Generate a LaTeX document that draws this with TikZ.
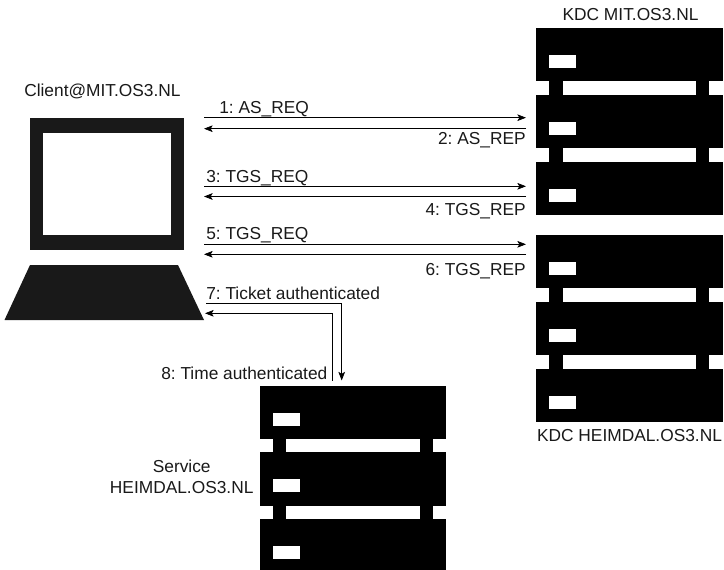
\documentclass[tikz,border=0pt]{standalone}
\usepackage{fontspec}
\setmainfont{Liberation Sans}
\usetikzlibrary{arrows.meta}
\frenchspacing
\tikzset{
  ink/.style={fill=black,draw=none},
  gap/.style={fill=white,draw=none},
  lbl/.style={inner sep=0pt,font=\fontsize{13pt}{15pt}\selectfont,text=black!90},
  lblL/.style={lbl,anchor=base west},
  lblR/.style={lbl,anchor=base east},
  lblC/.style={lbl,anchor=base},
  msg/.style={line width=0.6pt,-{Stealth[length=6.5pt,width=5pt,inset=1.5pt]}},
  pics/rack/.style={code={
    \fill[ink] (0,0) rectangle (186.6,186.4);
    \foreach \g in {53,120}{
      \fill[gap] (0,\g) rectangle (13.4,\g+13.4);
      \fill[gap] (26.7,\g) rectangle (160,\g+13.4);
      \fill[gap] (173.3,\g) rectangle (186.6,\g+13.4);
    }
    \foreach \g in {27,93.7,160.4}{
      \fill[gap] (13.4,\g) rectangle (40,\g+13);
    }
  }}
}
\begin{document}
\begin{tikzpicture}[x=0.75pt,y=-0.75pt]
\useasboundingbox (0,0) rectangle (724,570);
\begin{scope}
\clip (0,0) rectangle (724,570);
\pic at (536,28.5) {rack};
\pic at (536,235.3) {rack};
\pic at (259.7,385.7) {rack};
\end{scope}
% laptop
\fill[black!90] (30,118.3) rectangle (184,250);
\fill[white] (42.7,132.7) rectangle (171,235);
\fill[black!90] (30,265) -- (178,265) -- (204,320) -- (4.5,320) -- cycle;
% connector ends
\coordinate (cl1) at (204,117.7); \coordinate (kd1) at (526,117.7);
\coordinate (cl2) at (204,128.7); \coordinate (kd2) at (526,128.7);
\coordinate (cl3) at (204,186.3); \coordinate (kd3) at (526,186.3);
\coordinate (cl4) at (204,196.5); \coordinate (kd4) at (526,196.5);
\coordinate (cl5) at (204,244.3); \coordinate (kd5) at (526,244.3);
\coordinate (cl6) at (204,254.3); \coordinate (kd6) at (526,254.3);
\coordinate (cl7) at (206,303.3); \coordinate (sv7) at (341.7,380.5);
\coordinate (cl8) at (205,313.3); \coordinate (sv8) at (332.7,380.5);
\draw[msg] (cl1) -- (kd1);
\draw[msg] (kd2) -- (cl2);
\draw[msg] (cl3) -- (kd3);
\draw[msg] (kd4) -- (cl4);
\draw[msg] (cl5) -- (kd5);
\draw[msg] (kd6) -- (cl6);
\draw[msg] (cl7) -| (sv7);
\draw[msg] (sv8) |- (cl8);
% labels
\node[lblL] (client) at (24,96.5) {Client@MIT.OS3.NL};
\node[lblL] (m1) at (219,114) {1: AS\_REQ};
\node[lblR] (m2) at (526,144.5) {2: AS\_REP};
\node[lblL] (m3) at (206,183) {3: TGS\_REQ};
\node[lblR] (m4) at (526,216) {4: TGS\_REP};
\node[lblL] (m5) at (206,239) {5: TGS\_REQ};
\node[lblR] (m6) at (526,275) {6: TGS\_REP};
\node[lblL] (m7) at (206,299) {7: Ticket authenticated};
\node[lblL] (m8) at (161,379) {8: Time authenticated};
\node[lblC] (kdc1) at (630.5,21) {KDC MIT.OS3.NL};
\node[lblC] (kdc2) at (629.5,441) {KDC HEIMDAL.OS3.NL};
\node[lblC] (svc1) at (181.7,472.7) {Service};
\node[lblC] (svc2) at (181.7,493.3) {HEIMDAL.OS3.NL};
\end{tikzpicture}
\end{document}
